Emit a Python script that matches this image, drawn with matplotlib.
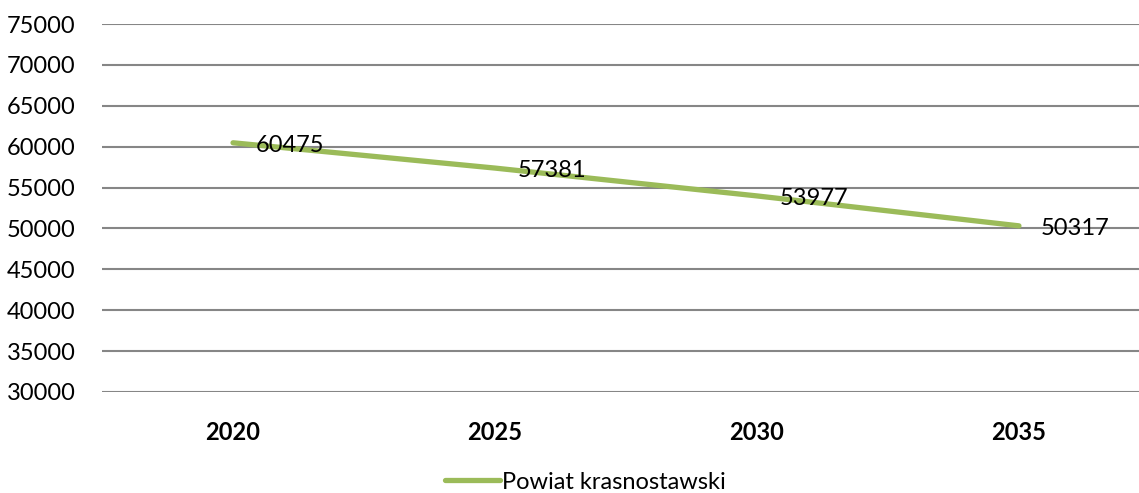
import matplotlib.pyplot as plt

years = ["2020", "2025", "2030", "2035"]
population = [60475, 57381, 53977, 50317]
series_name = "Powiat krasnostawski"
yticks = list(range(30000, 75001, 5000))

plt.rcParams['font.family'] = ['Lato', 'DejaVu Sans']

fig = plt.figure(figsize=(11.39, 4.93), dpi=100)
ax = fig.add_axes([0.0896, 0.2049, 0.920, 0.7464])

x = list(range(len(years)))
line, = ax.plot(x, population, color='#9BBB59', linewidth=3.8,
                solid_capstyle='round', zorder=3, label=series_name)

for xi, v in zip(x, population):
    ax.annotate(str(v), (xi, v), xytext=(16, -2), textcoords='offset points',
                ha='left', va='center', fontsize=17, color='black', zorder=4)

ax.set_xlim(-0.5, len(years) - 0.5)
ax.set_ylim(30000, 75000)
ax.set_yticks(yticks)
ax.set_yticklabels([str(t) for t in yticks], fontsize=17)
ax.set_xticks(x)
ax.set_xticklabels(years, fontsize=17, fontweight='bold')
ax.tick_params(length=0)
ax.tick_params(axis='y', pad=19)
ax.tick_params(axis='x', pad=21)
ax.grid(axis='y', color='#868686', linewidth=1.5)
ax.set_axisbelow(True)
for s in ax.spines.values():
    s.set_visible(False)

fig.legend(handles=[line], loc='center', bbox_to_anchor=(0.514, 0.022),
           frameon=False, fontsize=17, handlelength=2.3, handletextpad=0.1)

fig.savefig('out.png', dpi=100)
